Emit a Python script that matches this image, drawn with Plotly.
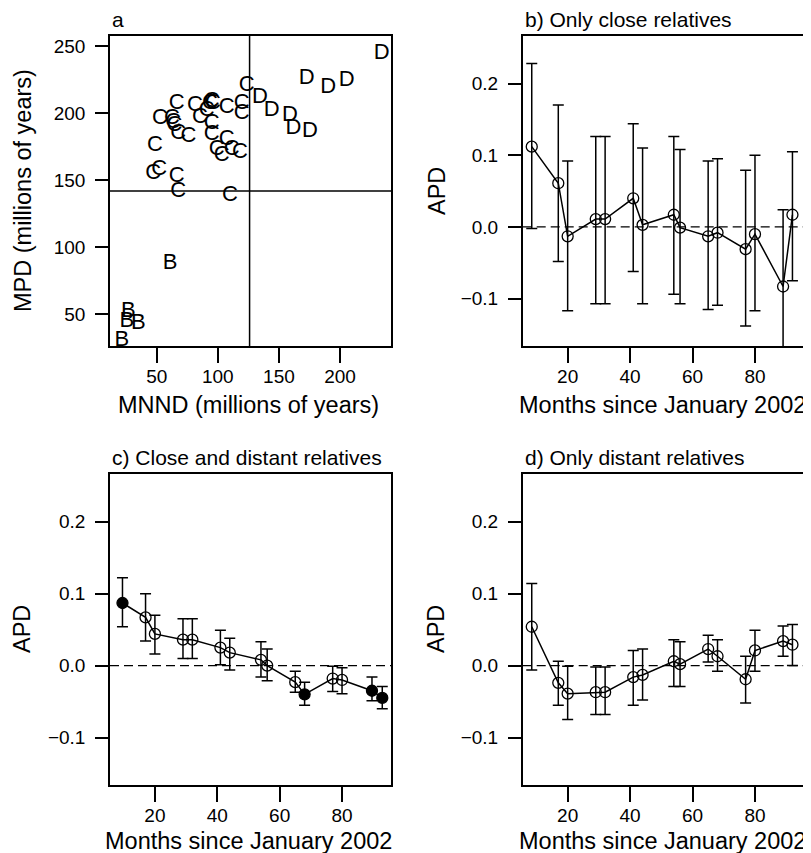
import plotly.graph_objects as go

FONT = "Liberation Sans, Arial, Helvetica, sans-serif"
PAGE_W, PAGE_H = 811, 853
OFF = 8  # default body margin of the html page
W, H = PAGE_W - OFF, PAGE_H - OFF

# ---------------- Panel a data ----------------
mnnd_B = [60.9, 26.8, 25.5, 35.0, 21.4]
mpd_B = [87.8, 51.7, 44.3, 43.0, 30.6]

mnnd_C = [123.6, 119.5, 119.5, 107.3, 93.5, 95.0, 96.0, 91.0, 85.4, 81.4, 66.4,
          52.7, 63.6, 62.5, 64.5, 67.7, 75.9, 95.0, 95.0, 107.3, 99.0, 103.2,
          111.4, 118.2, 48.6, 47.2, 52.0, 66.4, 67.7, 110.0]
mpd_C = [220.7, 207.5, 200.0, 204.5, 207.5, 208.5, 207.0, 202.0, 197.0, 205.8, 207.0,
         195.8, 193.3, 196.0, 191.0, 184.7, 182.5, 192.0, 184.0, 180.0, 173.0, 168.5,
         173.0, 171.0, 176.0, 155.0, 158.0, 152.7, 141.5, 138.5]

mnnd_D = [234.0, 172.7, 190.4, 205.4, 134.5, 144.0, 159.0, 161.8, 175.4]
mpd_D = [244.8, 225.7, 219.4, 224.4, 212.0, 202.0, 198.3, 188.4, 186.6]

mnnd_cut = 126
mpd_cut = 142

# ---------------- Panels b-d data ----------------
months = [8.5, 17, 20, 29, 32, 41, 44, 54, 56, 65, 68, 77, 80, 89, 92]
months_c = [9.6, 17, 20, 29, 32, 41, 44, 54, 56, 65, 68, 77, 80, 89.6, 92.9]

apd_b = [0.112, 0.061, -0.013, 0.011, 0.011, 0.040, 0.003, 0.017, -0.001, -0.013,
         -0.008, -0.031, -0.010, -0.083, 0.017]
up_b = [0.228, 0.170, 0.092, 0.126, 0.126, 0.144, 0.110, 0.126, 0.108, 0.092,
        0.095, 0.079, 0.100, 0.024, 0.105]
lo_b = [-0.002, -0.048, -0.117, -0.107, -0.107, -0.062, -0.107, -0.094, -0.107, -0.115,
        -0.109, -0.138, -0.117, -0.190, -0.075]

apd_c = [0.087, 0.067, 0.044, 0.036, 0.036, 0.025, 0.018, 0.008, 0.000, -0.023,
         -0.040, -0.018, -0.020, -0.035, -0.045]
up_c = [0.122, 0.100, 0.070, 0.065, 0.065, 0.049, 0.038, 0.033, 0.023, -0.008,
        -0.023, -0.001, -0.003, -0.016, -0.029]
lo_c = [0.054, 0.034, 0.016, 0.010, 0.010, 0.001, -0.006, -0.016, -0.021, -0.037,
        -0.055, -0.036, -0.039, -0.049, -0.060]
filled_c = [True, False, False, False, False, False, False, False, False, False,
            True, False, False, True, True]

apd_d = [0.054, -0.024, -0.039, -0.037, -0.037, -0.016, -0.013, 0.006, 0.002, 0.023,
         0.013, -0.019, 0.021, 0.034, 0.029]
up_d = [0.114, 0.006, -0.001, -0.002, -0.002, 0.021, 0.023, 0.036, 0.033, 0.042,
        0.036, 0.013, 0.049, 0.055, 0.057]
lo_d = [-0.006, -0.055, -0.075, -0.068, -0.068, -0.055, -0.048, -0.029, -0.029, 0.005,
        -0.008, -0.052, -0.008, 0.013, 0.000]

titles = ["a", "b) Only close relatives", "c) Close and distant relatives", "d) Only distant relatives"]
apd_ticks = [-0.1, 0.0, 0.1, 0.2]
apd_ticktext = ["\u22120.1", "0.0", "0.1", "0.2"]
month_ticks = [20, 40, 60, 80]

# ---------------- layout geometry (page pixels) ----------------
col_x = [(110, 391), (522.7, 804)]
row_y = [(35.5, 346), (473.5, 785)]


def px_x(p):
    return (p - OFF) / W


def px_y(p):
    return 1 - (p - OFF) / H


def xdom(c):
    return [px_x(col_x[c][0]), px_x(col_x[c][1])]


def ydom(r):
    return [px_y(row_y[r][1]), px_y(row_y[r][0])]


fig = go.Figure()

# Panel a: letters
for xs, ys, letter in [(mnnd_B, mpd_B, "B"), (mnnd_C, mpd_C, "C"), (mnnd_D, mpd_D, "D")]:
    fig.add_trace(go.Scatter(
        x=xs, y=ys, mode="text", text=[letter] * len(xs),
        textposition="middle center",
        textfont=dict(family=FONT, size=22, color="black"),
        xaxis="x", yaxis="y", showlegend=False, hoverinfo="skip"))


def apd_trace(x, v, up, lo, ax, filled=None):
    plus = [u - a for u, a in zip(up, v)]
    minus = [a - l for a, l in zip(v, lo)]
    if filled is None:
        symbols = "circle-open"
    else:
        symbols = ["circle" if f else "circle-open" for f in filled]
    return go.Scatter(
        x=x, y=v, mode="lines+markers",
        line=dict(color="black", width=1.5),
        marker=dict(symbol=symbols, size=11, color="black", line=dict(color="black", width=1.3)),
        error_y=dict(type="data", symmetric=False, array=plus, arrayminus=minus,
                     color="black", thickness=1.5, width=5.5),
        xaxis="x" + ax, yaxis="y" + ax, showlegend=False, hoverinfo="skip")


fig.add_trace(apd_trace(months, apd_b, up_b, lo_b, "2"))
fig.add_trace(apd_trace(months_c, apd_c, up_c, lo_c, "3", filled_c))
fig.add_trace(apd_trace(months, apd_d, up_d, lo_d, "4"))

common = dict(showline=True, linecolor="black", linewidth=1.5, mirror=True,
              ticks="outside", tickwidth=1.5, tickcolor="black",
              showgrid=False, zeroline=False,
              tickfont=dict(family=FONT, size=19, color="black"))
xcommon = dict(ticklen=15, ticklabelstandoff=-3, **common)
ycommon = dict(ticklen=13, ticklabelstandoff=6, **common)

layout = dict(
    width=W, height=H, margin=dict(l=0, r=0, t=0, b=0),
    paper_bgcolor="white", plot_bgcolor="white", showlegend=False,
    xaxis=dict(domain=xdom(0), range=[11.8, 241.7], tickvals=[50, 100, 150, 200], anchor="y", **xcommon),
    yaxis=dict(domain=ydom(0), range=[26.2, 258], tickvals=[50, 100, 150, 200, 250], anchor="x", **ycommon),
)
panels = [("2", 1, 0), ("3", 0, 1), ("4", 1, 1)]
for ax, c, r in panels:
    layout["xaxis" + ax] = dict(domain=xdom(c), range=[5.6, 95.7], tickvals=month_ticks,
                                anchor="y" + ax, **xcommon)
    layout["yaxis" + ax] = dict(domain=ydom(r), range=[-0.166, 0.267], tickvals=apd_ticks,
                                ticktext=apd_ticktext, anchor="x" + ax, **ycommon)
fig.update_layout(**layout)

# reference lines
fig.add_shape(type="line", xref="x", yref="y domain", x0=mnnd_cut, x1=mnnd_cut, y0=0, y1=1,
              line=dict(color="black", width=1.5))
fig.add_shape(type="line", xref="x domain", yref="y", x0=0, x1=1, y0=mpd_cut, y1=mpd_cut,
              line=dict(color="black", width=1.5))
for ax, c, r in panels:
    fig.add_shape(type="line", xref="x" + ax + " domain", yref="y" + ax, x0=0, x1=1, y0=0, y1=0,
                  line=dict(color="black", width=1.3, dash="9px,5px"), layer="below")

# annotations: panel titles and axis titles
ann = []
title_pos = [(110, 20), (523, 19), (110, 457), (523, 457)]
for t, (px, py) in zip(titles, title_pos):
    ann.append(dict(text=t, x=px_x(px), y=px_y(py), xref="paper", yref="paper",
                    xanchor="left", yanchor="middle", showarrow=False,
                    font=dict(family=FONT, size=21, color="black")))

xtitles = [("MNND (millions of years)", 249, 405), ("Months since January 2002", 662, 405),
           ("Months since January 2002", 249, 841), ("Months since January 2002", 662, 841)]
for t, px, py in xtitles:
    ann.append(dict(text=t, x=px_x(px), y=px_y(py), xref="paper", yref="paper",
                    xanchor="center", yanchor="middle", showarrow=False,
                    font=dict(family=FONT, size=23.5, color="black")))
ytitles = [("MPD (millions of years)", 23, 191), ("APD", 437, 191), ("APD", 22, 629), ("APD", 436, 629)]
for t, px, py in ytitles:
    ann.append(dict(text=t, x=px_x(px), y=px_y(py), xref="paper", yref="paper",
                    xanchor="center", yanchor="middle", textangle=-90, showarrow=False,
                    font=dict(family=FONT, size=23.5, color="black")))
fig.update_layout(annotations=ann)

fig.write_html("out.html")
